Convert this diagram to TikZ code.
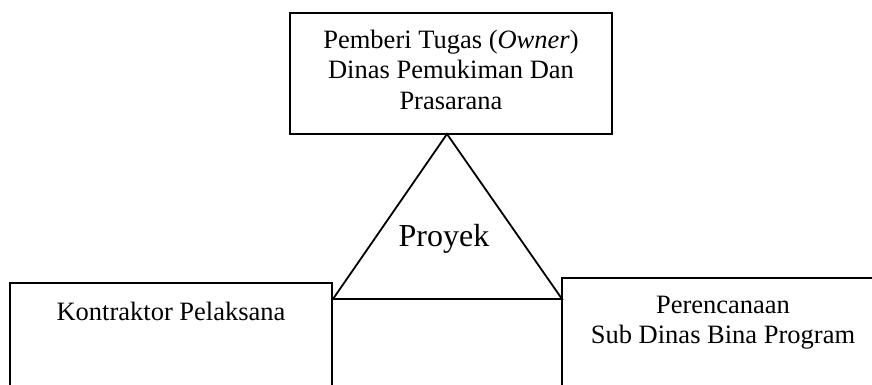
\documentclass[tikz,border=0pt]{standalone}
\usepackage{fontspec}
\setmainfont{Liberation Serif}
\begin{document}
\begin{tikzpicture}[x=1pt,y=-1pt,
  boxline/.style={draw=black,line width=1.8pt},
  lbl/.style={anchor=base,inner sep=0pt,font=\fontsize{26.5}{30}\selectfont},
  big/.style={anchor=base,inner sep=0pt,font=\fontsize{32}{38}\selectfont}]
\useasboundingbox (0,0) rectangle (872,385);
\clip (0,0) rectangle (872,385);
% boxes
\draw[boxline] (290,13) rectangle (612,134);
\draw[boxline] (10,283) rectangle (332,400);
\draw[boxline] (562,278) rectangle (884,400);
% triangle
\coordinate (apex) at (447,134);
\coordinate (bl) at (333,299);
\coordinate (br) at (562,299);
\draw[line width=1.8pt,line join=miter] (apex) -- (bl) -- (br) -- cycle;
% texts
\node[lbl] (t1) at (451,49) {Pemberi Tugas (\textit{Owner})};
\node[lbl] (t2) at (451,79) {Dinas Pemukiman Dan};
\node[lbl] (t3) at (451,110) {Prasarana};
\node[big] (pr) at (444,246) {Proyek};
\node[lbl] (k) at (171,320) {Kontraktor Pelaksana};
\node[lbl] (p1) at (723,313) {Perencanaan};
\node[lbl] (p2) at (723,343) {Sub Dinas Bina Program};
\end{tikzpicture}
\end{document}
